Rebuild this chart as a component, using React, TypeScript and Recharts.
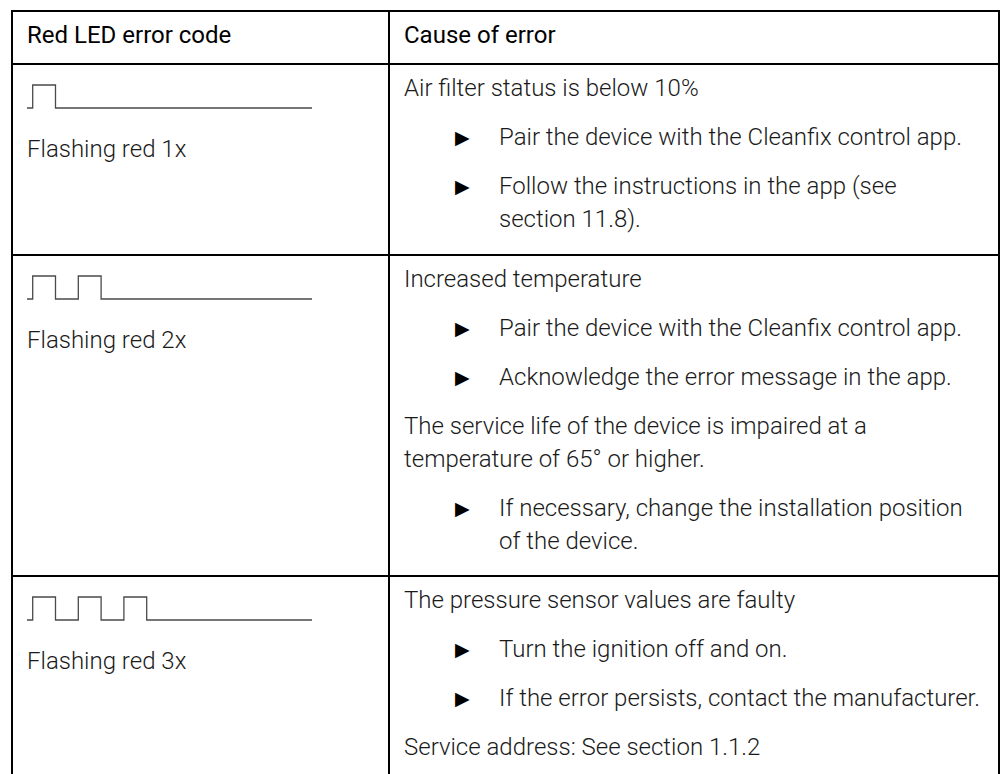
import React from "react";
import { LineChart, Line, XAxis, YAxis } from "recharts";

// ---- data ----
const headerLabels = ["Red LED error code", "Cause of error"];
const codeLabels = ["Flashing red 1x", "Flashing red 2x", "Flashing red 3x"];

// LED signal level over time (0 = off, 1 = on), time units 0..50
const flash1x = [
  { t: 0, level: 0 },
  { t: 1, level: 1 },
  { t: 5, level: 0 },
  { t: 50, level: 0 },
];
const flash2x = [
  { t: 0, level: 0 },
  { t: 1, level: 1 },
  { t: 5, level: 0 },
  { t: 9, level: 1 },
  { t: 13, level: 0 },
  { t: 50, level: 0 },
];
const flash3x = [
  { t: 0, level: 0 },
  { t: 1, level: 1 },
  { t: 5, level: 0 },
  { t: 9, level: 1 },
  { t: 13, level: 0 },
  { t: 17, level: 1 },
  { t: 21, level: 0 },
  { t: 50, level: 0 },
];
const signals = [flash1x, flash2x, flash3x];

// cause text: kind "p" = paragraph line, "b" = bullet line, "c" = bullet continuation; gap = paragraph break before
type Ln = { kind: "p" | "b" | "c"; text: string; gap: boolean };
const cause1x: Ln[] = [
  { kind: "p", text: "Air filter status is below 10%", gap: false },
  { kind: "b", text: "Pair the device with the Cleanfix control app.", gap: true },
  { kind: "b", text: "Follow the instructions in the app (see", gap: true },
  { kind: "c", text: "section 11.8).", gap: false },
];
const cause2x: Ln[] = [
  { kind: "p", text: "Increased temperature", gap: false },
  { kind: "b", text: "Pair the device with the Cleanfix control app.", gap: true },
  { kind: "b", text: "Acknowledge the error message in the app.", gap: true },
  { kind: "p", text: "The service life of the device is impaired at a", gap: true },
  { kind: "p", text: "temperature of 65° or higher.", gap: false },
  { kind: "b", text: "If necessary, change the installation position", gap: true },
  { kind: "c", text: "of the device.", gap: false },
];
const cause3x: Ln[] = [
  { kind: "p", text: "The pressure sensor values are faulty", gap: false },
  { kind: "b", text: "Turn the ignition off and on.", gap: true },
  { kind: "b", text: "If the error persists, contact the manufacturer.", gap: true },
  { kind: "p", text: "Service address: See section 1.1.2", gap: true },
];
const causes = [cause1x, cause2x, cause3x];

// ---- layout ----
const W = 1003;
const H = 774;
const tableLeft = 12;
const tableRight = 999;
const tableTop = 11;
const headerBottom = 64;
const colDivider = 389;
const rowTops = [64, 255, 576];
const rowBottoms = [255, 576, 790];
const FONT = "Roboto, 'Noto Sans', 'DejaVu Sans', sans-serif";
const FS = 24;
const LINE = 33;
const PARA = 49;

function Signal({ data, top }: { data: { t: number; level: number }[]; top: number }) {
  return (
    <div style={{ position: "absolute", left: 27, top: top + 21 - 2 }}>
      <LineChart width={285} height={27} data={data} margin={{ top: 2, bottom: 2, left: 0, right: 0 }}>
        <XAxis dataKey="t" type="number" domain={[0, 50]} hide />
        <YAxis type="number" domain={[0, 1]} hide />
        <Line
          type="stepAfter"
          dataKey="level"
          stroke="#4a4a4a"
          strokeWidth={1.3}
          dot={false}
          isAnimationActive={false}
        />
      </LineChart>
    </div>
  );
}

export default function App() {
  const textEls: React.ReactNode[] = [];
  causes.forEach((lines, ri) => {
    let y = rowTops[ri] + 31.5;
    lines.forEach((ln, li) => {
      if (li > 0) y += ln.gap ? PARA : LINE;
      if (ln.kind === "b") {
        textEls.push(
          <text
            key={`bul-${ri}-${li}`}
            x={455}
            y={y - 1}
            fontFamily="'DejaVu Sans', sans-serif"
            fontSize={19}
            fill="#000"
          >
            ▶
          </text>
        );
      }
      textEls.push(
        <text
          key={`t-${ri}-${li}`}
          x={ln.kind === "p" ? 404 : 499}
          y={y}
          fontFamily={FONT}
          fontWeight={300}
          fontSize={FS}
          fill="#1a1a1a"
        >
          {ln.text}
        </text>
      );
    });
  });

  return (
    <div style={{ position: "absolute", left: 0, top: 0, width: W, height: H, background: "#fff", overflow: "hidden" }}>
      <svg width={W} height={H} style={{ position: "absolute", left: 0, top: 0 }}>
        {/* borders */}
        <line x1={tableLeft - 1} y1={tableTop} x2={tableRight + 1} y2={tableTop} stroke="#000" strokeWidth={2} />
        <line x1={tableLeft} y1={tableTop} x2={tableLeft} y2={H + 20} stroke="#000" strokeWidth={2} />
        <line x1={tableRight} y1={tableTop} x2={tableRight} y2={H + 20} stroke="#000" strokeWidth={2} />
        <line x1={colDivider} y1={tableTop} x2={colDivider} y2={H + 20} stroke="#000" strokeWidth={2} />
        <line x1={tableLeft} y1={headerBottom} x2={tableRight} y2={headerBottom} stroke="#000" strokeWidth={2} />
        {rowBottoms.map((b, i) => (
          <line key={`rb-${i}`} x1={tableLeft} y1={b} x2={tableRight} y2={b} stroke="#000" strokeWidth={2} />
        ))}
        {/* header */}
        <text x={27} y={43} fontFamily={FONT} fontSize={FS} fill="#000">
          {headerLabels[0]}
        </text>
        <text x={404} y={43} fontFamily={FONT} fontSize={FS} fill="#000">
          {headerLabels[1]}
        </text>
        {/* code labels */}
        {codeLabels.map((lab, i) => (
          <text key={`cl-${i}`} x={27} y={rowTops[i] + 93} fontFamily={FONT} fontWeight={300} fontSize={FS} fill="#1a1a1a">
            {lab}
          </text>
        ))}
        {textEls}
      </svg>
      {signals.map((s, i) => (
        <Signal key={`sig-${i}`} data={s} top={rowTops[i]} />
      ))}
    </div>
  );
}
